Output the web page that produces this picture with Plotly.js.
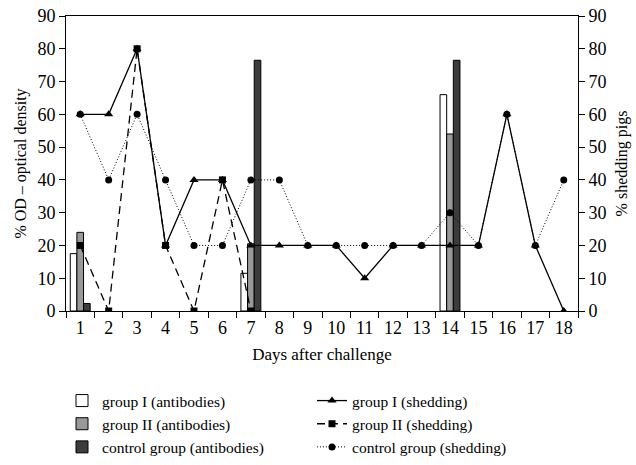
<!DOCTYPE html>
<html>
<head>
<meta charset="utf-8">
<script src="https://cdn.plot.ly/plotly-3.0.1.min.js"></script>
<style>
  html, body { margin: 0; padding: 0; background: #fff; }
  #chart { width: 636px; height: 465px; }
</style>
</head>
<body>
<div id="chart"></div>
<script>
// Days after challenge
const days = [1,2,3,4,5,6,7,8,9,10,11,12,13,14,15,16,17,18];
const dayLabels = days.map(String);

// Antibody measurements (% OD) on days 1, 7 and 14
const antibodyDays = [1, 7, 14];
const groupIAntibodies = [17.5, 11.5, 66];
const groupIIAntibodies = [24, 20.5, 54];
const controlAntibodies = [2.3, 76.5, 76.5];

// Shedding (% shedding pigs)
const groupIShedding = [60,60,80,20,40,40,20,20,20,20,10,20,20,20,20,60,20,0];
const groupIIDays = [1,2,3,4,5,6,7];
const groupIIShedding = [20,0,80,20,0,40,0];
const controlShedding = [60,40,60,40,20,20,40,40,20,20,20,20,20,30,20,60,20,40];

const FONT = '"Liberation Serif", "Times New Roman", serif';

// bar geometry (style): three bars side by side, 0.7 of a day in total
const BW = 0.7 / 3;
const barLine = {color: '#000', width: 1};
const traces = [
  {type: 'bar', name: 'group I (antibodies)', x: antibodyDays, y: groupIAntibodies,
   width: BW, offset: -1.5 * BW,
   marker: {color: '#ffffff', line: barLine}, yaxis: 'y'},
  {type: 'scatter', mode: 'lines+markers', name: 'group I (shedding)', x: days, y: groupIShedding,
   line: {color: '#000', width: 1.3}, marker: {symbol: 'triangle-up', size: 8, color: '#000'}, yaxis: 'y2'},
  {type: 'bar', name: 'group II (antibodies)', x: antibodyDays, y: groupIIAntibodies,
   width: BW, offset: -0.5 * BW,
   marker: {color: '#999999', line: barLine}, yaxis: 'y'},
  {type: 'scatter', mode: 'lines+markers', name: 'group II (shedding)', x: groupIIDays, y: groupIIShedding,
   line: {color: '#000', width: 1.3, dash: '8px,5px'}, marker: {symbol: 'square', size: 7, color: '#000'}, yaxis: 'y2'},
  {type: 'bar', name: 'control group (antibodies)', x: antibodyDays, y: controlAntibodies,
   width: BW, offset: 0.5 * BW,
   marker: {color: '#3c3c3c', line: barLine}, yaxis: 'y'},
  {type: 'scatter', mode: 'lines+markers', name: 'control group (shedding)', x: days, y: controlShedding,
   line: {color: '#000', width: 1, dash: '1px,2px'}, marker: {symbol: 'circle', size: 7, color: '#000'}, yaxis: 'y2'}
];

const axisCommon = {
  showgrid: false, zeroline: false, showline: true, linecolor: '#000', linewidth: 1,
  ticks: 'outside', ticklen: 6, tickcolor: '#000', tickwidth: 1,
  tickfont: {family: FONT, size: 18, color: '#000'}
};

const layout = {
  width: 636, height: 465,
  margin: {l: 66, r: 58, t: 16, b: 154, pad: 0},
  paper_bgcolor: '#fff', plot_bgcolor: '#fff',
  font: {family: FONT, color: '#000'},
  barmode: 'overlay',
  showlegend: true,
  xaxis: Object.assign({}, axisCommon, {
    range: [0.5, 18.5], tickmode: 'array', tickvals: days, ticktext: dayLabels,
    ticks: '', mirror: true,
    minor: {tick0: 0.5, dtick: 1, ticks: 'outside', ticklen: 6, tickcolor: '#000', tickwidth: 1, showgrid: false},
    title: {text: 'Days after challenge', font: {family: FONT, size: 17, color: '#000'}, standoff: 11}
  }),
  yaxis: Object.assign({}, axisCommon, {
    range: [0, 90], tick0: 0, dtick: 10,
    title: {text: '% OD – optical density', font: {family: FONT, size: 16, color: '#000'}, standoff: 6}
  }),
  yaxis2: Object.assign({}, axisCommon, {
    range: [0, 90], tick0: 0, dtick: 10, overlaying: 'y', side: 'right',
    title: {text: '% shedding pigs', font: {family: FONT, size: 16, color: '#000'}, standoff: 10}
  }),
  legend: {
    orientation: 'h', xref: 'container', yref: 'container',
    x: 62/636, xanchor: 'left', y: 1 - 384/465, yanchor: 'top',
    entrywidth: 205, entrywidthmode: 'pixels',
    font: {family: FONT, size: 15.5, color: '#000'},
    bgcolor: 'rgba(0,0,0,0)', traceorder: 'normal'
  }
};

Plotly.newPlot('chart', traces, layout, {displayModeBar: false, staticPlot: true});
</script>
</body>
</html>
